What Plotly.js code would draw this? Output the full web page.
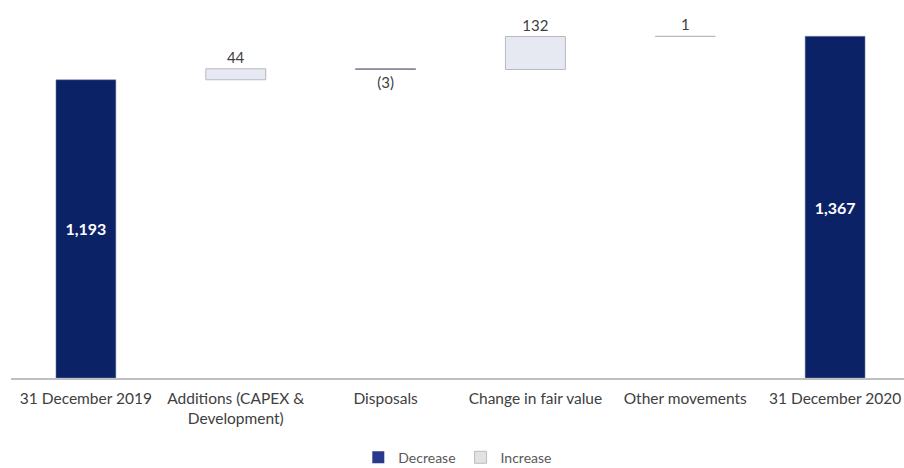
<!DOCTYPE html>
<html><head><meta charset="utf-8">
<script src="https://cdn.plot.ly/plotly-3.0.1.min.js"></script>
<style>html,body{margin:0;padding:0;overflow:hidden;background:#fff}#chart{width:910px;height:468px}</style>
</head><body><div id="chart"></div>
<script>
const categories = ["31 December 2019", "Additions (CAPEX &<br>Development)", "Disposals", "Change in fair value", "Other movements", "31 December 2020"];
const values = [1193, 44, -3, 132, 1, 1367];
const measures = ["absolute", "relative", "relative", "relative", "relative", "total"];
const legendNames = ["Decrease", "Increase"];

function fmt(v){ const s = Math.abs(v).toLocaleString("en-US"); return v < 0 ? "(" + s + ")" : s; }
const labels = values.map(fmt);
const positions = measures.map(m => m === "relative" ? "outside" : "inside");

const navy = "#0b2266";
const light = "#e6e8f2";

const traces = [{
  type: "waterfall",
  x: categories, y: values, measure: measures,
  text: labels, textposition: positions, textinfo: "text",
  constraintext: "none", cliponaxis: false,
  insidetextanchor: "middle",
  insidetextfont: {family: "Lato, sans-serif", size: 16, color: "#ffffff", weight: "bold"},
  outsidetextfont: {family: "Lato, sans-serif", size: 15, color: "#404040"},
  increasing: {marker: {color: light, line: {color: "#b8b8c4", width: 1}}},
  decreasing: {marker: {color: "#8a8a9c", line: {color: "#8a8a9c", width: 1}}},
  totals: {marker: {color: navy, line: {color: "#7f8cb0", width: 0.5}}},
  connector: {visible: false},
  showlegend: false, hoverinfo: "none"
}, {
  type: "bar", name: legendNames[0], x: [categories[0]], y: [null],
  marker: {color: "#2a3a8a"}, showlegend: true
}, {
  type: "bar", name: legendNames[1], x: [categories[0]], y: [null],
  marker: {color: "#e2e2e2", line: {color: "#bdbdbd", width: 1}}, showlegend: true
}];

const layout = {
  width: 910, height: 468,
  margin: {l: 11, r: 0, t: 28, b: 90, autoexpand: false},
  paper_bgcolor: "#fff", plot_bgcolor: "#fff",
  waterfallgap: 0.6,
  font: {family: "Lato, sans-serif", size: 15, color: "#404040"},
  xaxis: {
    showline: true, linecolor: "#bfbfbf", linewidth: 1.5,
    ticks: "", ticklabelstandoff: 6, automargin: false,
    tickfont: {family: "Lato, sans-serif", size: 15.5, color: "#404040"},
    showgrid: false, zeroline: false, fixedrange: true
  },
  yaxis: {range: [0, 1400], visible: false, showgrid: false, zeroline: false},
  legend: {orientation: "h", x: 0.497, xanchor: "center", yref: "container", y: 0.022, yanchor: "middle",
    font: {family: "Lato, sans-serif", size: 14, color: "#595959"}, itemwidth: 20, traceorder: "normal"},
  showlegend: true
};
Plotly.newPlot("chart", traces, layout, {displayModeBar: false, staticPlot: true});
</script></body></html>
